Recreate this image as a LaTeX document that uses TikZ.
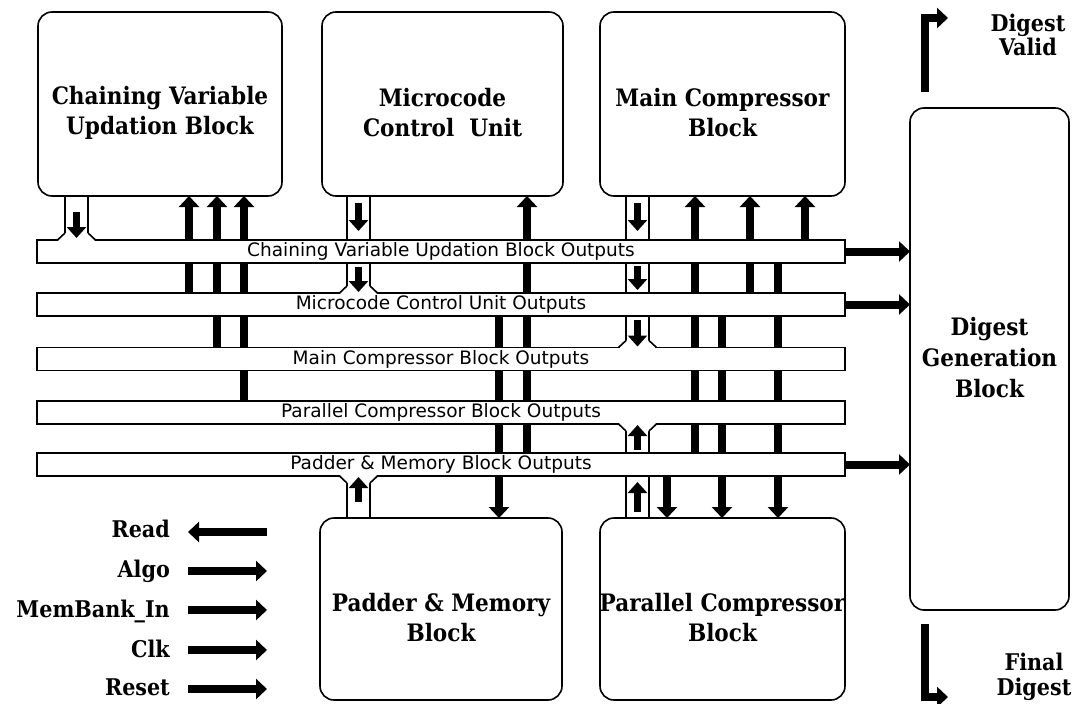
\documentclass[tikz,border=0pt]{standalone}
\usepackage{fontspec}
\newfontfamily\blkfont{DejaVu Serif Condensed}
\newfontfamily\barfont{DejaVu Sans}
\usetikzlibrary{arrows.meta,calc,backgrounds}
\begin{document}
\begin{tikzpicture}[x=1pt,y=-1pt,
  blk/.style={draw, line width=1.6pt, rounded corners=14pt, fill=white, outer sep=0pt, inner sep=0pt},
  busbar/.style={draw, line width=1.6pt, fill=white, minimum width=808pt, minimum height=23pt, outer sep=0pt, inner sep=0pt, font=\barfont\fontsize{18.5}{20}\selectfont},
  blktxt/.style={font=\blkfont\bfseries\fontsize{24}{30}\selectfont, align=center, inner sep=0pt},
  lbl/.style={font=\blkfont\bfseries\fontsize{23}{26}\selectfont, inner sep=0pt},
  fat/.style={line width=8pt, -{Triangle[width=20pt,length=11pt]}},
  chan/.style={line width=1.6pt},
  chanarr/.style={line width=7.5pt, -{Triangle[width=19pt,length=11pt]}}
]
\useasboundingbox (0,0) rectangle (1082,704);

% x positions
\coordinate (xa) at (189,0); \coordinate (xb) at (217,0); \coordinate (xc) at (244,0);
\coordinate (xd) at (527,0); \coordinate (xe) at (499,0);
\coordinate (xf) at (695,0); \coordinate (xg) at (750,0); \coordinate (xh) at (805,0);
\coordinate (xi) at (667,0); \coordinate (xj) at (722,0); \coordinate (xk) at (778,0);
\coordinate (c1l) at (65,0); \coordinate (c1r) at (88,0); \coordinate (c1m) at (76.5,0);
\coordinate (c2l) at (347,0); \coordinate (c2r) at (370,0); \coordinate (c2m) at (358.5,0);
\coordinate (c3l) at (626,0); \coordinate (c3r) at (649,0); \coordinate (c3m) at (637.5,0);

% blocks
\node[blk, minimum width=244pt, minimum height=184pt] (cvub) at (160,104) {};
\node[blk, minimum width=241pt, minimum height=184pt] (mcu) at (442.5,104) {};
\node[blk, minimum width=245pt, minimum height=184pt] (mcb) at (722.5,104) {};
\node[blk, minimum width=159pt, minimum height=502pt] (dgb) at (989.5,359) {};
\node[blk, minimum width=242pt, minimum height=182pt] (pmb) at (441,609) {};
\node[blk, minimum width=245pt, minimum height=182pt] (pcb) at (722.5,609) {};

\node[blktxt] (cvubT) at (160,113) {Chaining Variable\\Updation Block};
\node[blktxt] (mcuT) at (442.5,113) {Microcode\\Control\ \ Unit};
\node[blktxt] (mcbT) at (722.5,113) {Main Compressor\\Block};
\node[blktxt, font=\blkfont\bfseries\fontsize{24}{31}\selectfont] (dgbT) at (989.5,358) {Digest\\Generation\\Block};
\node[blktxt] (pmbT) at (441,618) {Padder \& Memory\\Block};
\node[blktxt] (pcbT) at (722.5,618) {Parallel Compressor\\Block};

% bus bars
\node[busbar] (bar1) at (441,251.5) {Chaining Variable Updation Block Outputs};
\node[busbar] (bar2) at (441,304.5) {Microcode Control Unit Outputs};
\node[busbar] (bar3) at (441,359) {Main Compressor Block Outputs};
\node[busbar] (bar4) at (441,412.5) {Parallel Compressor Block Outputs};
\node[busbar] (bar5) at (441,464.5) {Padder \& Memory Block Outputs};

% thick lines behind the bars
\begin{pgfonlayer}{background}
\fill[white] (0,0) rectangle (1082,704);
\draw[fat] (bar2 -| xa) -- (cvub.south -| xa);
\draw[fat] (bar3 -| xb) -- (cvub.south -| xb);
\draw[fat] (bar4 -| xc) -- (cvub.south -| xc);
\draw[fat] (bar5 -| xd) -- (mcu.south -| xd);
\draw[fat] (bar2 -| xe) -- (pmb.north -| xe);
\draw[fat] (bar5 -| xf) -- (mcb.south -| xf);
\draw[fat] (bar2 -| xg) -- (mcb.south -| xg);
\draw[fat] (bar1 -| xh) -- (mcb.south -| xh);
\draw[fat] (bar5 -| xi) -- (pcb.north -| xi);
\draw[fat] (bar2 -| xj) -- (pcb.north -| xj);
\draw[fat] (bar1 -| xk) -- (pcb.north -| xk);
\end{pgfonlayer}

% channels: plain segments
\draw[chan] (cvub.south -| c1l) -- ($(bar1.north -| c1l)+(0,-7)$);
\draw[chan] (cvub.south -| c1r) -- ($(bar1.north -| c1r)+(0,-7)$);
\draw[chan] (mcu.south -| c2l) -- (bar1.north -| c2l);
\draw[chan] (mcu.south -| c2r) -- (bar1.north -| c2r);
\draw[chan] (bar1.south -| c2l) -- ($(bar2.north -| c2l)+(0,-7)$);
\draw[chan] (bar1.south -| c2r) -- ($(bar2.north -| c2r)+(0,-7)$);
\draw[chan] (mcb.south -| c3l) -- (bar1.north -| c3l);
\draw[chan] (mcb.south -| c3r) -- (bar1.north -| c3r);
\draw[chan] (bar1.south -| c3l) -- (bar2.north -| c3l);
\draw[chan] (bar1.south -| c3r) -- (bar2.north -| c3r);
\draw[chan] (bar2.south -| c3l) -- ($(bar3.north -| c3l)+(0,-7)$);
\draw[chan] (bar2.south -| c3r) -- ($(bar3.north -| c3r)+(0,-7)$);
\draw[chan] (pcb.north -| c3l) -- (bar5.south -| c3l);
\draw[chan] (pcb.north -| c3r) -- (bar5.south -| c3r);
\draw[chan] (bar5.north -| c3l) -- ($(bar4.south -| c3l)+(0,7)$);
\draw[chan] (bar5.north -| c3r) -- ($(bar4.south -| c3r)+(0,7)$);
\draw[chan] (pmb.north -| c2l) -- ($(bar5.south -| c2l)+(0,7)$);
\draw[chan] (pmb.north -| c2r) -- ($(bar5.south -| c2r)+(0,7)$);

% flares (top of a bar)
\foreach \b/\l/\r in {bar1/c1l/c1r, bar2/c2l/c2r, bar3/c3l/c3r}{
  \fill[white] ($(\b.north -| \l)+(-7,1)$) -- ($(\b.north -| \l)+(0,-7)$) -- ($(\b.north -| \r)+(0,-7)$) -- ($(\b.north -| \r)+(7,1)$) -- cycle;
  \draw[chan] ($(\b.north -| \l)+(-7.5,0)$) -- ($(\b.north -| \l)+(0,-7)$);
  \draw[chan] ($(\b.north -| \r)+(7.5,0)$) -- ($(\b.north -| \r)+(0,-7)$);
}
% flares (bottom of a bar)
\foreach \b/\l/\r in {bar4/c3l/c3r, bar5/c2l/c2r}{
  \fill[white] ($(\b.south -| \l)+(-7,-1)$) -- ($(\b.south -| \l)+(0,7)$) -- ($(\b.south -| \r)+(0,7)$) -- ($(\b.south -| \r)+(7,-1)$) -- cycle;
  \draw[chan] ($(\b.south -| \l)+(-7.5,0)$) -- ($(\b.south -| \l)+(0,7)$);
  \draw[chan] ($(\b.south -| \r)+(7.5,0)$) -- ($(\b.south -| \r)+(0,7)$);
}

% arrows inside the channels
\draw[chanarr] ($(cvub.south -| c1m)+(0,16)$) -- ($(bar1.north -| c1m)+(0,-2)$);
\draw[chanarr] ($(mcu.south -| c2m)+(0,7)$) -- ($(bar1.north -| c2m)+(0,-9)$);
\draw[chanarr] ($(bar1.south -| c2m)+(0,4)$) -- ($(bar2.north -| c2m)+(0,-1)$);
\draw[chanarr] ($(mcb.south -| c3m)+(0,7)$) -- ($(bar1.north -| c3m)+(0,-9)$);
\draw[chanarr] ($(bar1.south -| c3m)+(0,3)$) -- ($(bar2.north -| c3m)+(0,-3)$);
\draw[chanarr] ($(bar2.south -| c3m)+(0,4)$) -- ($(bar3.north -| c3m)+(0,-1)$);
\draw[chanarr] ($(pcb.north -| c3m)+(0,-6)$) -- ($(bar5.south -| c3m)+(0,6)$);
\draw[chanarr] ($(bar5.north -| c3m)+(0,-3)$) -- ($(bar4.south -| c3m)+(0,1)$);
\draw[chanarr] ($(pmb.north -| c2m)+(0,-16)$) -- ($(bar5.south -| c2m)+(0,1)$);

% outputs into digest block
\draw[fat] (bar1.east) -- (bar1.east -| dgb.west);
\draw[fat] (bar2.east) -- (bar2.east -| dgb.west);
\draw[fat] (bar5.east) -- (bar5.east -| dgb.west);

% digest valid / final digest
\coordinate (dv0) at (925,92); \coordinate (dv1) at (948,18);
\draw[fat] (dv0) |- (dv1);
\node[blktxt, font=\blkfont\bfseries\fontsize{23}{24}\selectfont] (dvT) at (1028,35) {Digest\\Valid};
\coordinate (fd0) at (925,624); \coordinate (fd1) at (948,697);
\draw[fat] (fd0) |- (fd1);
\node[blktxt, font=\blkfont\bfseries\fontsize{23}{25}\selectfont] (fdT) at (1034,677) {Final\\Digest};

% left signals
\node[lbl, anchor=base east] (lRead) at (170,537) {Read};
\node[lbl, anchor=base east] (lAlgo) at (170,577) {Algo};
\node[lbl, anchor=base east] (lMem) at (170,617) {MemBank\_In};
\node[lbl, anchor=base east] (lClk) at (170,657) {Clk};
\node[lbl, anchor=base east] (lReset) at (170,695) {Reset};
\coordinate (r0) at (188,532); \coordinate (r1) at (267,532);
\coordinate (a0) at (188,571); \coordinate (a1) at (267,571);
\coordinate (m0) at (188,610); \coordinate (m1) at (267,610);
\coordinate (k0) at (188,650); \coordinate (k1) at (267,650);
\coordinate (s0) at (188,689); \coordinate (s1) at (267,689);
\draw[fat] (r1) -- (r0);
\draw[fat] (a0) -- (a1);
\draw[fat] (m0) -- (m1);
\draw[fat] (k0) -- (k1);
\draw[fat] (s0) -- (s1);
\end{tikzpicture}
\end{document}
